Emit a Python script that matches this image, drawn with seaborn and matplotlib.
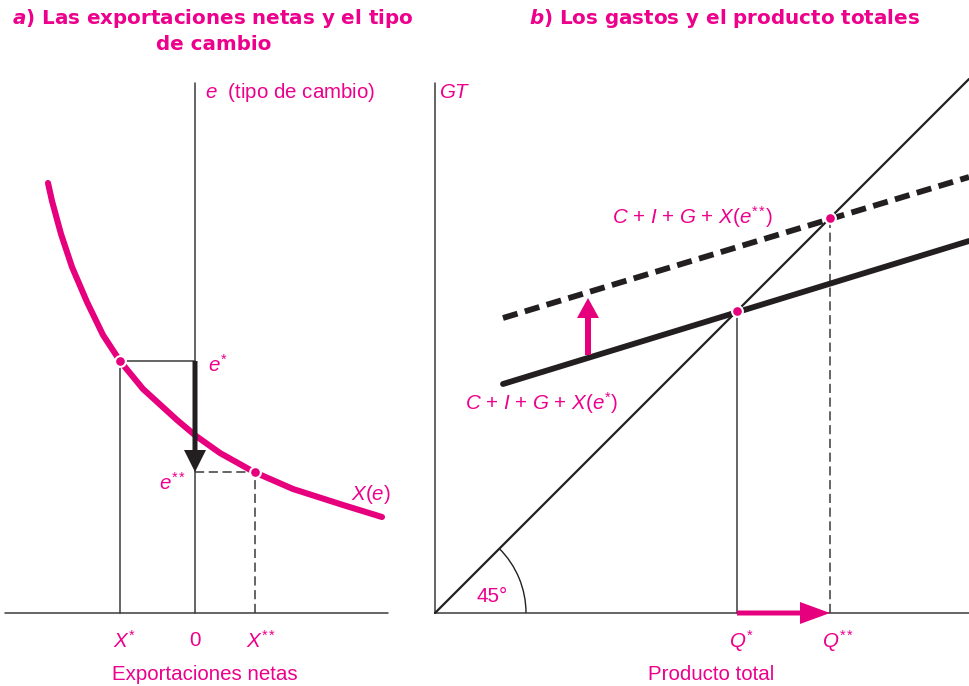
import matplotlib
matplotlib.use("Agg")
import matplotlib.pyplot as plt
import seaborn as sns
from matplotlib.patches import Arc

# -------------------------------
# Data
# -------------------------------
# panel a: net exports curve X(e)
curve_x = [-147, -143, -134, -123, -108, -92, -75, -52, -18, 1, 25, 59, 98, 148, 187]
curve_e = [430, 412, 379, 346, 311, 278, 252, 224, 193, 177, 160, 141, 124, 108, 96]
x_star, e_star = -75, 252
x_sstar, e_sstar = 60, 141

# panel b: total expenditure lines
gt_x = [68, 534]
gt_solid = [229, 372]
gt_dash = [295, 436]
diag = [0, 534]
q_star, q_sstar = 302, 395
shift_x, shift_from, shift_to = 153, 258, 315

PINK = "#E6007E"
TXT = "#EC008C"
BLACK = "#231F20"
AXC = "#3a3a3a"

sns.set_theme(style="white")
plt.rcParams["font.family"] = ["Liberation Sans", "DejaVu Sans"]
plt.rcParams["mathtext.fontset"] = "custom"
plt.rcParams["mathtext.rm"] = "Liberation Sans"
plt.rcParams["mathtext.it"] = "Liberation Sans:italic"
plt.rcParams["mathtext.bf"] = "Liberation Sans:bold"
plt.rcParams["mathtext.bfit"] = "DejaVu Sans:italic:bold"

fig = plt.figure(figsize=(9.69, 6.86), dpi=100)
W, H = 969, 686
axa = fig.add_axes([0, 0, 430 / W, 1])
axb = fig.add_axes([430 / W, 0, 539 / W, 1])
axa.set_xlim(-195, 235)
axb.set_xlim(-5, 534)
for ax in (axa, axb):
    ax.set_ylim(-73, 613)
    ax.axis("off")

fs = 14.8
SS = r"{*}\,{*}"  # double asterisk

# -------------------------------
# Panel a
# -------------------------------
axa.plot([-190, 193], [0, 0], color=AXC, lw=1.1)
axa.plot([0, 0], [0, 530], color=AXC, lw=1.1)
axa.plot([x_star, 0], [e_star, e_star], color=AXC, lw=1.1)
axa.plot([x_star, x_star], [0, e_star], color=AXC, lw=1.1)
axa.plot([0, x_sstar], [e_sstar, e_sstar], color=AXC, lw=1.1, dashes=(6, 3))
axa.plot([x_sstar, x_sstar], [0, e_sstar], color=AXC, lw=1.1, dashes=(6, 3))

sns.lineplot(x=curve_x, y=curve_e, ax=axa, sort=False, estimator=None,
             color=PINK, lw=4.4, solid_joinstyle="round")
axa.arrow(0, e_star, 0, e_sstar - e_star, width=5, head_width=22,
          head_length=22, length_includes_head=True, color=BLACK, lw=0, zorder=4)
sns.scatterplot(x=[x_star, x_sstar], y=[e_star, e_sstar], ax=axa, s=60,
                color=PINK, edgecolor="white", linewidth=1.5, zorder=5)

axa.text(13, 248, r"$e^{*}$", color=TXT, fontsize=fs, va="center")
axa.text(-9, 130, r"$e^{" + SS + "}$", color=TXT, fontsize=fs, va="center", ha="right")
axa.text(176, 118, r"$X(e)$", color=TXT, fontsize=fs, va="center", ha="center")
axa.text(x_star + 4, -28, r"$X^{*}$", color=TXT, fontsize=fs, va="center", ha="center")
axa.text(0, -28, "0", color=TXT, fontsize=fs, va="center", ha="center")
axa.text(x_sstar + 6, -28, r"$X^{" + SS + "}$", color=TXT, fontsize=fs, va="center", ha="center")
axa.text(10, -61, "Exportaciones netas", color=TXT, fontsize=fs, va="center", ha="center")
axa.text(10, 521, r"$e$  (tipo de cambio)", color=TXT, fontsize=fs, va="center")

# -------------------------------
# Panel b
# -------------------------------
axb.plot([0, 534], [0, 0], color=AXC, lw=1.1)
axb.plot([0, 0], [0, 530], color=AXC, lw=1.1)
sns.lineplot(x=diag, y=diag, ax=axb, color=BLACK, lw=1.6)
axb.add_patch(Arc((0, 0), 182, 182, theta1=0, theta2=45, color=BLACK, lw=1.0))
axb.plot([q_star, q_star], [0, q_star], color=AXC, lw=1.1)
axb.plot([q_sstar, q_sstar], [0, q_sstar], color=AXC, lw=1.1, dashes=(6, 3))

sns.lineplot(x=gt_x, y=gt_solid, ax=axb, color=BLACK, lw=4.2)
axb.plot(gt_x, gt_dash, color=BLACK, lw=4.2, dashes=(2.6, 1.3))

axb.arrow(shift_x, shift_from, 0, shift_to - shift_from, width=6, head_width=22,
          head_length=20, length_includes_head=True, color=PINK, lw=0, zorder=4)
axb.arrow(q_star, 0, q_sstar - q_star, 0, width=5, head_width=22,
          head_length=30, length_includes_head=True, color=PINK, lw=0, zorder=4)
sns.scatterplot(x=[q_star, q_sstar], y=[q_star, q_sstar], ax=axb, s=60,
                color=PINK, edgecolor="white", linewidth=1.5, zorder=5)

axb.text(57, 16, "45°", color=TXT, fontsize=fs, va="center", ha="center")
axb.text(4, 521, r"$GT$", color=TXT, fontsize=fs, va="center")
axb.text(257, 396, r"$C$ + $I$ + $G$ + $X(e^{" + SS + "})$", color=TXT, fontsize=fs,
         va="center", ha="center")
axb.text(106, 210, r"$C$ + $I$ + $G$ + $X(e^{*})$", color=TXT, fontsize=fs,
         va="center", ha="center")
axb.text(q_star + 4, -28, r"$Q^{*}$", color=TXT, fontsize=fs, va="center", ha="center")
axb.text(q_sstar + 8, -28, r"$Q^{" + SS + "}$", color=TXT, fontsize=fs, va="center", ha="center")
axb.text(276, -61, "Producto total", color=TXT, fontsize=fs, va="center", ha="center")

# -------------------------------
# Titles
# -------------------------------
tkw = dict(color=TXT, fontsize=14.3, fontweight="bold", ha="center", va="center",
           family="DejaVu Sans")
fig.text(213 / W, 1 - 18 / H, r"$\mathbfit{a}$) Las exportaciones netas y el tipo", **tkw)
fig.text(214 / W, 1 - 45 / H, "de cambio", **tkw)
fig.text(724 / W, 1 - 18 / H, r"$\mathbfit{b}$) Los gastos y el producto totales", **tkw)

fig.savefig("out.png", dpi=100)
